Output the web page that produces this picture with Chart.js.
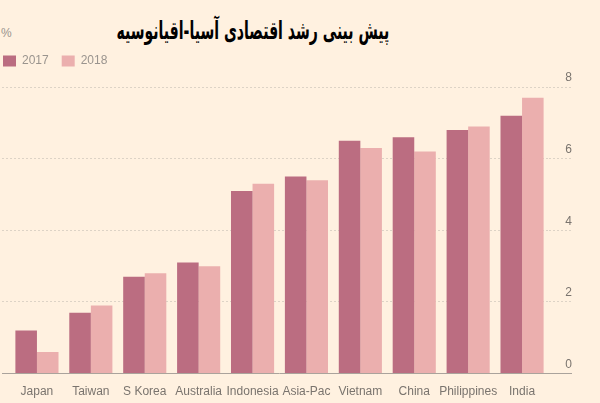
<!DOCTYPE html>
<html>
<head>
<meta charset="utf-8">
<script src="https://cdn.jsdelivr.net/npm/chart.js@4"></script>
<style>
  body { margin: 0; background: #fff1e0; width: 600px; height: 403px; overflow: hidden; position: relative; }
  #title { position: absolute; left: 0; top: 16px; width: 506px; text-align: center; }
  #title span { display: inline-block; font: bold 25px "DejaVu Sans"; color: #000; direction: rtl; transform-origin: center; }
  #unit { position: absolute; left: 1px; top: 26px; font: 12px "Liberation Sans"; color: #9a948e; }
  #wrap { position: absolute; left: 0; top: 0; width: 600px; height: 403px; }
</style>
</head>
<body>
<div id="title"><span>پیش بینی رشد اقتصادی آسیا-اقیانوسیه</span></div>
<div id="unit">%</div>
<div id="wrap"><canvas id="myChart"></canvas></div>
<script>
const categories = ["Japan", "Taiwan", "S Korea", "Australia", "Indonesia", "Asia-Pac", "Vietnam", "China", "Philippines", "India"];
const growth2017 = [1.2, 1.7, 2.7, 3.1, 5.1, 5.5, 6.5, 6.6, 6.8, 7.2];
const growth2018 = [0.6, 1.9, 2.8, 3.0, 5.3, 5.4, 6.3, 6.2, 6.9, 7.7];
const yTicks = [0, 2, 4, 6, 8];

// squeeze the title to the width it has in the original
const titleSpan = document.querySelector("#title span");
titleSpan.style.transform = "scaleX(" + (273 / titleSpan.offsetWidth) + ")";

const gridColor = (c) => (c.tick && c.tick.value === 0 ? "#aaa39c" : "#ddd3c6");
const gridDash = (c) => (c.tick && c.tick.value === 0 ? [] : [2, 2]);

// moves the legend up/left so it sits where the original has it
const legendShift = {
  id: "legendShift",
  afterLayout(chart) {
    chart.legend.left -= 12;
    chart.legend.top -= 10;
  },
};

const ctx = document.getElementById("myChart");

new Chart(ctx, {
  type: "bar",
  data: {
    labels: categories,
    datasets: [
      { label: "2017", data: growth2017, backgroundColor: "#bb6d81" },
      { label: "2018", data: growth2018, backgroundColor: "#ebafae" },
    ],
  },
  options: {
    responsive: true,
    maintainAspectRatio: false,
    animation: false,
    layout: { padding: { top: 52, left: 2, right: 28, bottom: 1 } },
    datasets: { bar: { categoryPercentage: 0.8, barPercentage: 1.0 } },
    plugins: {
      title: { display: false },
      tooltip: { enabled: false },
      legend: {
        position: "top",
        align: "start",
        labels: {
          boxWidth: 13,
          boxHeight: 11,
          padding: 13,
          color: "#9a948e",
          font: { family: "Liberation Sans", size: 12 },
        },
      },
    },
    scales: {
      x: {
        grid: { display: false },
        border: { display: false },
        ticks: { color: "#7a746e", font: { family: "Liberation Sans", size: 12 }, padding: 3, maxRotation: 0, autoSkip: false },
      },
      y: {
        position: "right",
        min: 0,
        max: 8,
        afterBuildTicks: (s) => { s.ticks = yTicks.map((v) => ({ value: v })); },
        afterFit: (s) => { s.width = 23; },
        grid: { color: gridColor, tickColor: gridColor, tickLength: 23, tickBorderDash: gridDash },
        border: { display: false, dash: gridDash },
        ticks: {
          color: "#7a746e",
          font: { family: "Liberation Sans", size: 12 },
          crossAlign: "far",
          padding: -8,
          labelOffset: -9,
        },
      },
      y2: {
        position: "left",
        min: 0,
        max: 8,
        afterBuildTicks: (s) => { s.ticks = yTicks.map((v) => ({ value: v })); },
        afterFit: (s) => { s.width = 8; },
        grid: { drawOnChartArea: false, color: gridColor, tickColor: gridColor, tickLength: 8, tickBorderDash: gridDash },
        border: { display: false },
        ticks: { display: false },
      },
    },
  },
  plugins: [legendShift],
});
</script>
</body>
</html>
